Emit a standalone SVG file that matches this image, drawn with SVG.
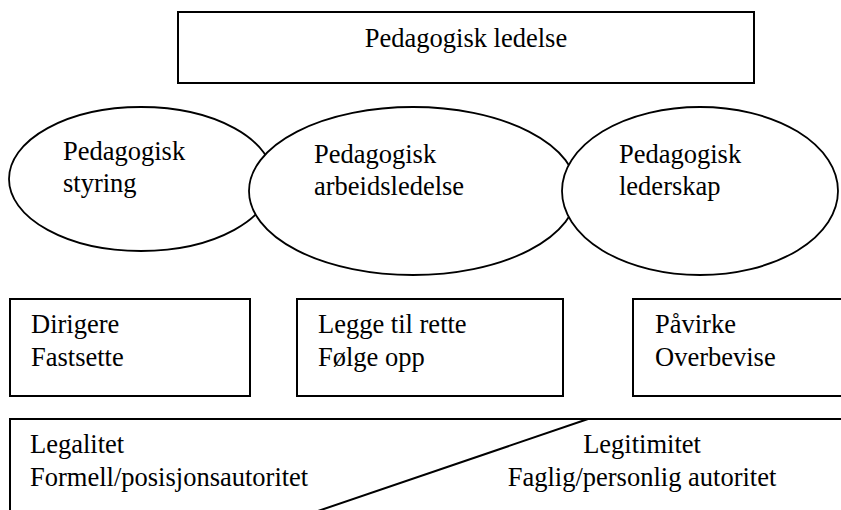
<svg xmlns="http://www.w3.org/2000/svg" width="841" height="510" viewBox="0 0 841 510">
<style>
  .box{fill:#fff;stroke:#000;stroke-width:2}
  .ell{fill:#fff;stroke:#000;stroke-width:1.8}
  .t{font-family:"Liberation Serif","Times New Roman",serif;font-size:26.5px;fill:#000}
  .m{text-anchor:middle}
</style>
<rect width="841" height="510" fill="#fff"/>
<g id="top">
  <rect class="box" x="178" y="12" width="576" height="71"/>
  <text class="t m" x="466" y="47">Pedagogisk ledelse</text>
</g>
<g id="styring">
  <ellipse class="ell" cx="141" cy="179" rx="132" ry="72"/>
  <text class="t" x="63" y="160">Pedagogisk</text>
  <text class="t" x="63" y="192">styring</text>
</g>
<g id="arbeidsledelse">
  <ellipse class="ell" cx="413" cy="191" rx="164" ry="84"/>
  <text class="t" x="314" y="163">Pedagogisk</text>
  <text class="t" x="314" y="195">arbeidsledelse</text>
</g>
<g id="lederskap">
  <ellipse class="ell" cx="700" cy="191" rx="138" ry="84"/>
  <text class="t" x="619" y="163">Pedagogisk</text>
  <text class="t" x="619" y="195">lederskap</text>
</g>
<g id="dirigere">
  <rect class="box" x="10" y="299" width="240" height="97"/>
  <text class="t" x="31" y="333">Dirigere</text>
  <text class="t" x="31" y="366">Fastsette</text>
</g>
<g id="legge">
  <rect class="box" x="297" y="299" width="266" height="97"/>
  <text class="t" x="318" y="333">Legge til rette</text>
  <text class="t" x="318" y="366">Følge opp</text>
</g>
<g id="pavirke">
  <rect class="box" x="633" y="299" width="220" height="97"/>
  <text class="t" x="655" y="333">Påvirke</text>
  <text class="t" x="655" y="366">Overbevise</text>
</g>
<g id="autoritet">
  <rect class="box" x="10" y="419" width="850" height="110"/>
  <line x1="588" y1="419" x2="315" y2="512" stroke="#000" stroke-width="2"/>
  <text class="t" x="30" y="453">Legalitet</text>
  <text class="t" x="30" y="486">Formell/posisjonsautoritet</text>
  <text class="t m" x="642" y="453">Legitimitet</text>
  <text class="t m" x="642" y="486">Faglig/personlig autoritet</text>
</g>
<g id="connectors"/>
</svg>
